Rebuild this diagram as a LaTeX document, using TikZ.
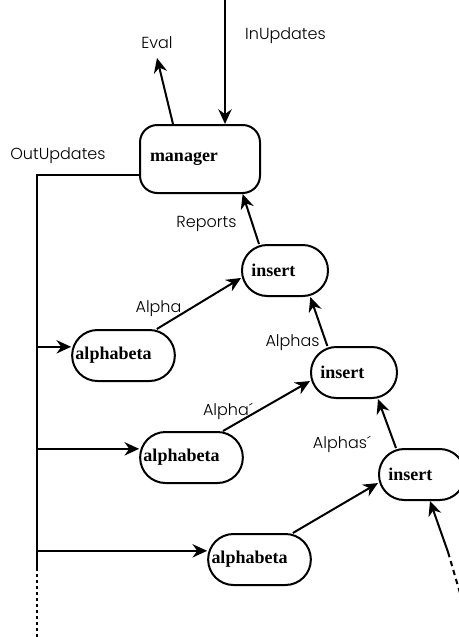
\documentclass[tikz,border=0pt]{standalone}
\usepackage{fontspec}
\newfontfamily\lblfont{Poppins Light}
\newfontfamily\procfont{Liberation Serif}
\usetikzlibrary{arrows.meta}

\begin{document}
\begin{tikzpicture}[x=0.75pt, y=-0.75pt, >={Stealth[length=11pt,width=10pt]},
    proc/.style={draw, line width=1.5pt, rounded corners=19pt, minimum height=38.25pt,
        inner ysep=0pt, align=left, font=\procfont\fontsize{13.5}{15}\selectfont\bfseries},
    lbl/.style={font=\lblfont\large, inner sep=0pt, anchor=base},
    flow/.style={->, line width=1.5pt}]
\useasboundingbox (0,0) rectangle (459,637);
\clip (0,0) rectangle (459,637);

% processes
\node[proc, text width=75pt, inner xsep=7.5pt, minimum height=51pt, rounded corners=13pt] (manager) at (200,159) {manager};
\node[proc, text width=50.5pt, inner xsep=7pt] (insA) at (285,270.5) {insert};
\node[proc, text width=50.5pt, inner xsep=7pt] (insB) at (354,372.5) {insert};
\node[proc, text width=50.5pt, inner xsep=7pt] (insC) at (422,474.5) {insert};
\node[proc, text width=72pt, inner xsep=2.5pt] (abA) at (123.5,355.5) {alphabeta};
\node[proc, text width=72pt, inner xsep=2.5pt] (abB) at (191.5,457.5) {alphabeta};
\node[proc, text width=72pt, inner xsep=2.5pt] (abC) at (259.5,559.5) {alphabeta};

% free ends
\coordinate (inTop) at (225,0);
\coordinate (evalEnd) at (157,58);
\coordinate (busTop) at (37,175);
\coordinate (busEnd) at (37,568);
\coordinate (busFoot) at (37,640);
\coordinate (feedFoot) at (460,593);
\coordinate (feedMid) at (448,552);
\path ([yshift=6.5pt]abA.west) coordinate (abAin)
      ([yshift=6.5pt]abB.west) coordinate (abBin)
      ([yshift=6.5pt]abC.west) coordinate (abCin);

% labels
\node[lbl] (inLbl) at (285.5,39) {InUpdates};
\node[lbl] (evalLbl) at (157,48) {Eval};
\node[lbl] (outLbl) at (58,159) {OutUpdates};
\node[lbl] (repLbl) at (206.5,227) {Reports};
\node[lbl] (alphaLbl) at (158.5,312) {Alpha};
\node[lbl] (alphasLbl) at (292.5,346) {Alphas};
\node[lbl] (alphaPLbl) at (228,415) {Alpha´};
\node[lbl] (alphasPLbl) at (342,448) {Alphas´};

% manager in/out
\draw[flow] (inTop) -- (inTop |- manager.north);
\draw[flow] ([xshift=-20.25pt]manager.north) -- (evalEnd);
\draw[line width=1.5pt] (manager.west |- busTop) -- (busTop) -- (busEnd);
\draw[line width=1.5pt, dash pattern=on 2pt off 2.5pt] (busEnd) -- (busFoot);
\draw[flow] (abAin -| busTop) -- (abAin);
\draw[flow] (abBin -| busTop) -- (abBin);
\draw[flow] (abCin -| busTop) -- (abCin);

% alphabeta -> insert
\draw[flow] ([xshift=25pt]abA.north) -- ([yshift=-5.6pt]insA.west);
\draw[flow] ([xshift=23.6pt]abB.north) -- ([yshift=-6.4pt]insB.west);
\draw[flow] ([xshift=25pt]abC.north) -- ([yshift=-6.4pt]insC.west);

% insert chain
\draw[flow] ([xshift=-19.5pt]insA.north) -- ([xshift=32pt]manager.south);
\draw[flow] ([xshift=-20pt]insB.north) -- ([xshift=19pt]insA.south);
\draw[flow] ([xshift=-19.5pt]insC.north) -- ([xshift=18pt]insB.south);
\draw[line width=1.5pt, dash pattern=on 4pt off 3pt] (feedFoot) -- (feedMid);
\draw[flow] (feedMid) -- ([xshift=6pt]insC.south);
\end{tikzpicture}
\end{document}
